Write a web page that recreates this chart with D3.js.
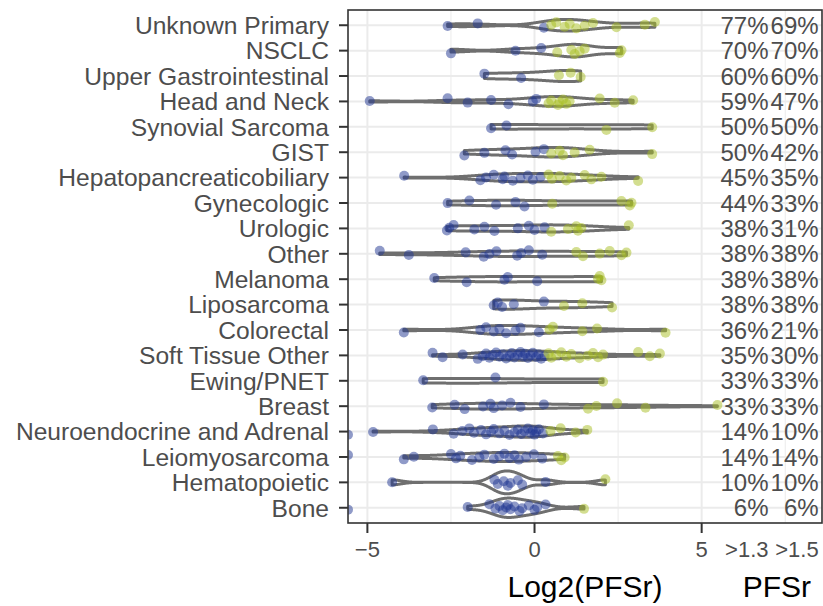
<!DOCTYPE html>
<html>
<head>
<meta charset="utf-8">
<script src="https://cdn.jsdelivr.net/npm/d3@7"></script>
<style>
  body { margin: 0; background: #fff; }
  text { font-family: "Liberation Sans", Arial, sans-serif; }
</style>
</head>
<body>
<svg id="chart" width="823" height="606"></svg>
<script>
// categories, top to bottom
var categories = ['Unknown Primary', 'NSCLC', 'Upper Gastrointestinal', 'Head and Neck',
    'Synovial Sarcoma', 'GIST', 'Hepatopancreaticobiliary', 'Gynecologic', 'Urologic',
    'Other', 'Melanoma', 'Liposarcoma', 'Colorectal', 'Soft Tissue Other', 'Ewing/PNET',
    'Breast', 'Neuroendocrine and Adrenal', 'Leiomyosarcoma', 'Hematopoietic', 'Bone'];

// log2(PFSr) per patient (values < axis min sit at the left edge)
var unknownPrimary = [-2.6, -1.7, 0.28, 0.5, 0.65, 0.9, 1.05, 1.25, 1.5, 1.75, 2.45, 3.3, 3.6];
var nsclc = [-2.5, -0.57, 0.2, 0.68, 1.1, 1.2, 1.35, 1.5, 2.55, 2.6];
var upperGi = [-1.5, -0.4, 0.73, 1.08, 1.38];
var headNeck = [-4.93, -2.6, -2.0, -1.3, -0.78, -0.05, 0.05, 0.42, 0.5, 0.7, 0.75, 0.85, 0.95, 1.05, 1.95, 2.4, 2.95];
var synovial = [-1.3, -0.84, 2.15, 3.52];
var gist = [-2.1, -1.5, -0.87, -0.67, 0.03, 0.28, 0.5, 0.75, 0.85, 1.2, 1.65, 3.52];
var hepato = [-3.9, -1.62, -1.45, -1.22, -0.95, -0.9, -0.65, -0.42, -0.2, -0.05, 0.18,
    0.42, 0.52, 0.75, 0.95, 1.1, 1.5, 1.7, 2.0, 3.1];
var gynecologic = [-2.6, -1.95, -1.15, -0.57, -0.3, 0.53, 2.6, 2.85, 2.9];
var urologic = [-2.62, -2.55, -2.42, -1.8, -1.5, -1.2, -0.5, -0.17, 0.0, 0.3, 0.5, 1.0, 1.25, 1.3, 1.4, 2.82];
var other = [-4.63, -3.76, -2.06, -1.52, -1.35, -1.14, -0.52, -0.4, -0.17, 0.23, 1.25, 1.45, 1.95, 2.25, 2.6, 2.75];
var melanoma = [-3.0, -2.03, -0.9, -0.8, 0.08, 1.9, 1.95, 2.0];
var liposarcoma = [-1.22, -1.1, -0.97, -0.62, 0.28, 0.88, 1.43, 2.32];
var colorectal = [-3.91, -1.62, -1.45, -1.22, -1.05, -0.85, -0.57, -0.42, 0.13, 0.45, 0.55, 1.43, 1.87, 3.92];
var softTissueOther = [-3.05, -2.75, -2.15, -1.7, -1.55, -1.45, -1.35, -1.25, -1.15, -1.05, -0.95,
    -0.85, -0.75, -0.68, -0.6, -0.5, -0.42, -0.35, -0.28, -0.2, -0.12, -0.05, 0.05, 0.12, 0.2, 0.3,
    0.42, 0.5, 0.65, 0.8, 0.95, 1.1, 1.35, 1.6, 1.75, 1.9, 2.05, 3.1, 3.45, 3.75];
var ewing = [-3.33, -1.17, 2.05];
var breast = [-3.06, -2.39, -2.09, -1.54, -1.32, -1.22, -0.97, -0.72, -0.42, 0.28, 1.6, 1.85, 2.47, 3.32, 5.47];
var neuroendocrine = [-6.5, -4.83, -3.04, -2.42, -2.16, -1.95, -1.81, -1.6, -1.45, -1.3, -1.22, -1.05,
    -0.9, -0.75, -0.6, -0.5, -0.4, -0.3, -0.2, -0.12, -0.05, 0.0, 0.05, 0.13, 0.25, 0.48, 0.78, 1.23, 1.58];
var leiomyosarcoma = [-6.5, -3.91, -3.61, -2.5, -2.35, -2.22, -1.87, -1.65, -1.5, -1.22, -1.05, -0.9,
    -0.75, -0.6, -0.47, -0.25, -0.02, 0.23, 0.7, 0.8, 0.9];
var hematopoietic = [-4.26, -1.2, -1.1, -0.92, -0.8, -0.72, -0.5, -0.37, 0.33, 2.12];
var bone = [-6.5, -2.0, -1.35, -1.17, -1.05, -0.95, -0.85, -0.8, -0.72, -0.6, -0.45, -0.37, -0.17, 0.0, 0.08, 0.33, 1.48];

// share of patients with PFSr > 1.3 and > 1.5
var pctOver13 = ['77%', '70%', '60%', '59%', '50%', '50%', '45%', '44%', '38%', '38%',
    '38%', '38%', '36%', '35%', '33%', '33%', '14%', '14%', '10%', '6%'];
var pctOver15 = ['69%', '70%', '60%', '47%', '50%', '42%', '35%', '33%', '31%', '38%',
    '38%', '38%', '21%', '30%', '33%', '33%', '10%', '14%', '10%', '6%'];
var pctHeaders = ['>1.3', '>1.5'];
var xTicks = [-5, 0, 5];
var xMinorTicks = [-2.5, 2.5, 7.5];

var groups = [unknownPrimary, nsclc, upperGi, headNeck, synovial, gist, hepato, gynecologic,
    urologic, other, melanoma, liposarcoma, colorectal, softTissueOther, ewing, breast,
    neuroendocrine, leiomyosarcoma, hematopoietic, bone];

var width = 823, height = 606;
var panel = {left: 348, right: 822, top: 10, bottom: 523};
var cutoff = Math.log2(1.3);
var fontSize = 24;

var svg = d3.select('#chart');

var x = d3.scaleLinear().domain([-5.58, 8.6]).range([panel.left, panel.right]);
var y = d3.scalePoint().domain(categories).range([panel.top, panel.bottom]).padding(0.6);
var xMin = x.domain()[0];

svg.append('defs').append('clipPath').attr('id', 'panel-clip')
    .append('rect')
    .attr('x', panel.left).attr('y', panel.top)
    .attr('width', panel.right - panel.left).attr('height', panel.bottom - panel.top);

// grid
var grid = svg.append('g').attr('class', 'grid');
grid.selectAll('line.minor').data(xMinorTicks).enter().append('line')
    .attr('x1', d => x(d)).attr('x2', d => x(d))
    .attr('y1', panel.top).attr('y2', panel.bottom)
    .attr('stroke', '#ebebeb').attr('stroke-width', 1);
grid.selectAll('line.major-x').data(xTicks).enter().append('line')
    .attr('x1', d => x(d)).attr('x2', d => x(d))
    .attr('y1', panel.top).attr('y2', panel.bottom)
    .attr('stroke', '#ebebeb').attr('stroke-width', 2);
grid.selectAll('line.major-y').data(categories).enter().append('line')
    .attr('x1', panel.left).attr('x2', panel.right)
    .attr('y1', d => y(d)).attr('y2', d => y(d))
    .attr('stroke', '#ebebeb').attr('stroke-width', 2);

// kernel density like R's density() with bw.nrd0
function bwNrd0(v) {
    var s = v.slice().sort(d3.ascending);
    var sd = d3.deviation(s);
    var iqr = d3.quantile(s, 0.75) - d3.quantile(s, 0.25);
    var lo = Math.min(sd, iqr / 1.34);
    if (!lo) lo = sd || Math.abs(s[0]) || 1;
    return 0.9 * lo * Math.pow(s.length, -0.2);
}

function density(v) {
    var bw = bwNrd0(v);
    var lo = d3.min(v), hi = d3.max(v);
    var pts = d3.range(512).map(function (i) {
        var t = lo + (hi - lo) * i / 511;
        var d = d3.sum(v, xi => Math.exp(-0.5 * Math.pow((t - xi) / bw, 2)));
        return {t: t, d: d / (v.length * bw * Math.sqrt(2 * Math.PI))};
    });
    return pts;
}

var violins = groups.map(g => density(g.filter(v => v >= xMin)));
var maxDens = d3.max(violins, vs => d3.max(vs, p => p.d));
var halfWidth = 0.45 * y.step();

var plot = svg.append('g').attr('clip-path', 'url(#panel-clip)');

plot.selectAll('path.violin').data(violins).enter().append('path')
    .attr('class', 'violin')
    .attr('d', function (vs, i) {
        var cy = y(categories[i]);
        return d3.area()
            .x(p => x(p.t))
            .y0(p => cy - p.d / maxDens * halfWidth)
            .y1(p => cy + p.d / maxDens * halfWidth)(vs) + 'Z';
    })
    .attr('fill', '#fff')
    .attr('stroke', '#6f6f6f')
    .attr('stroke-width', 3)
    .attr('stroke-linejoin', 'round');

// jittered points (fixed vertical offsets so the picture is stable)
var pointData = [];
groups.forEach(function (g, gi) {
    g.forEach(function (v, i) {
        var jit = (((i + 1) * 0.6180339887 + gi * 0.271) % 1 - 0.5) * 2 * 3.5;
        pointData.push({cat: categories[gi], v: v, jit: jit});
    });
});

plot.selectAll('circle.pt').data(pointData).enter().append('circle')
    .attr('class', 'pt')
    .attr('cx', d => x(Math.max(d.v, xMin)))
    .attr('cy', d => y(d.cat) + d.jit)
    .attr('r', 5)
    .attr('fill', d => d.v > cutoff ? '#a8bd22' : '#1f3591')
    .attr('fill-opacity', 0.5);

// panel border
svg.append('rect')
    .attr('x', panel.left).attr('y', panel.top)
    .attr('width', panel.right - panel.left).attr('height', panel.bottom - panel.top)
    .attr('fill', 'none').attr('stroke', '#333').attr('stroke-width', 1.6);

// y axis
var yAxis = svg.append('g');
yAxis.selectAll('line').data(categories).enter().append('line')
    .attr('x1', panel.left - 9).attr('x2', panel.left)
    .attr('y1', d => y(d)).attr('y2', d => y(d))
    .attr('stroke', '#333').attr('stroke-width', 2);
yAxis.selectAll('text').data(categories).enter().append('text')
    .attr('x', panel.left - 19)
    .attr('y', d => y(d))
    .attr('dy', '0.36em')
    .attr('text-anchor', 'end')
    .attr('font-size', 24.6)
    .attr('fill', '#4d4d4d')
    .text(d => d);

// x axis
var xAxis = svg.append('g');
xAxis.selectAll('line').data(xTicks).enter().append('line')
    .attr('x1', d => x(d)).attr('x2', d => x(d))
    .attr('y1', panel.bottom).attr('y2', panel.bottom + 10)
    .attr('stroke', '#333').attr('stroke-width', 2);
xAxis.selectAll('text').data(xTicks).enter().append('text')
    .attr('x', d => x(d))
    .attr('y', 557)
    .attr('text-anchor', 'middle')
    .attr('font-size', 22)
    .attr('fill', '#4d4d4d')
    .text(d => d < 0 ? '\u2212' + Math.abs(d) : d);

// percentage columns and their headers
var pctCols = [7.0, 8.5];
[pctOver13, pctOver15].forEach(function (col, ci) {
    svg.append('g').selectAll('text').data(col).enter().append('text')
        .attr('x', x(pctCols[ci]))
        .attr('y', (d, i) => y(categories[i]))
        .attr('dy', '0.36em')
        .attr('text-anchor', 'end')
        .attr('font-size', fontSize)
        .attr('fill', '#4d4d4d')
        .text(d => d);
});
svg.append('g').selectAll('text').data(pctHeaders).enter().append('text')
    .attr('x', (d, i) => x(pctCols[i]))
    .attr('y', 557)
    .attr('text-anchor', 'end')
    .attr('font-size', 22)
    .attr('fill', '#4d4d4d')
    .text(d => d);

// titles
svg.append('text')
    .attr('x', (panel.left + panel.right) / 2)
    .attr('y', 597)
    .attr('text-anchor', 'middle')
    .attr('font-size', 30)
    .attr('fill', '#000')
    .text('Log2(PFSr)');
svg.append('text')
    .attr('x', x(7.25))
    .attr('y', 597)
    .attr('text-anchor', 'middle')
    .attr('font-size', 30)
    .attr('fill', '#000')
    .text('PFSr');
</script>
</body>
</html>
